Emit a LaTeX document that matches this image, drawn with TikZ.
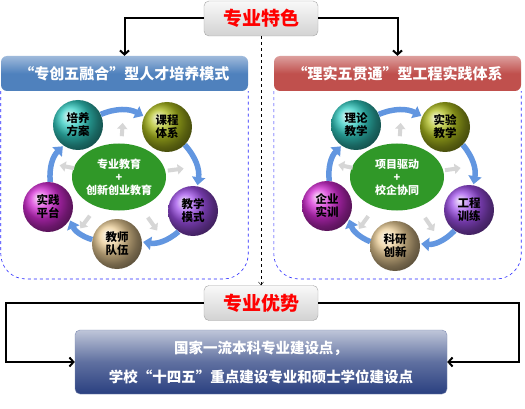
\documentclass[tikz,border=0pt]{standalone}
\usepackage{fontspec}
\setmainfont{Noto Sans CJK SC}
\usepackage{tikz}
\usetikzlibrary{shapes.geometric,arrows.meta,calc}

\definecolor{hdblue}{RGB}{79,129,189}
\definecolor{hdred}{RGB}{192,80,77}
\definecolor{arcblue}{RGB}{98,150,224}
\definecolor{ghost}{RGB}{214,214,214}
\definecolor{hub}{RGB}{48,152,40}
\definecolor{sTeal}{RGB}{50,205,195}
\definecolor{sOlive}{RGB}{175,190,30}
\definecolor{sPurple}{RGB}{160,80,235}
\definecolor{sTan}{RGB}{235,205,150}
\definecolor{sMagenta}{RGB}{215,45,215}
\definecolor{navy}{RGB}{42,64,128}

\begin{document}
\begin{tikzpicture}[x=1pt,y=1pt,
  tag/.style={rounded corners=5,draw=gray!70,top color=gray!5,bottom color=gray!35,
    minimum width=114,minimum height=35,text=red,font=\bfseries\fontsize{19}{22}\selectfont},
  header/.style={rounded corners=6,minimum width=247,minimum height=35,text=white,
    font=\bfseries\fontsize{15}{18}\selectfont},
  panel/.style={draw=blue!85,dashed,semithick,rounded corners=25},
  sphere/.style={circle,minimum size=50,inner sep=0,align=center,
    font=\bfseries\fontsize{11.5}{13}\selectfont},
  hubnode/.style={ellipse,fill=hub,minimum width=94,minimum height=67,inner sep=0,
    align=center,text=white,font=\bfseries\fontsize{11}{13}\selectfont},
  cyc/.style={draw=arcblue,line width=5.5,-{Triangle[length=8pt,width=13pt]},shorten >=1},
  outarrow/.style={draw=ghost,line width=4,-{Triangle[length=6pt,width=10pt]}},
  link/.style={draw=black,line width=2,-{Straight Barb[length=4pt,width=9pt]}},
  dashlink/.style={draw=black,thin,dashed,-{Straight Barb[length=3pt,width=5pt]}}]

\useasboundingbox[fill=white] (0,0) rectangle (525,-409);

\node [tag] (ts) at (261,-18.5) {专业特色};
\node [header,top color=hdblue!55!white,bottom color=hdblue,middle color=hdblue] (lh) at (124.5,-73.5) {“专创五融合”型人才培养模式};
\node [header,top color=hdred!55!white,bottom color=hdred,middle color=hdred] (rh) at (397.5,-73.5) {“理实五贯通”型工程实践体系};

\draw [link] (ts.west) -| (lh.north);
\draw [link] (ts.east) -| (rh.north);

\draw [panel] (lh.south west) |- (lh.south east |- 0,-279) -- (lh.south east);
\draw [panel] (rh.south west) |- (rh.south east |- 0,-279) -- (rh.south east);

\node [hubnode] (lc) at (119,-177) {专业教育\\+\\创新创业教育};
\node [sphere,ball color=sTeal] (pa) at (78,-125) {培养\\方案};
\node [sphere,ball color=sOlive] (kc) at (167,-127) {课程\\体系};
\node [sphere,ball color=sPurple] (jm) at (193,-211) {教学\\模式};
\node [sphere,ball color=sTan] (jd) at (117,-244) {教师\\队伍};
\node [sphere,ball color=sMagenta] (sp) at (48,-207) {实践\\平台};

\draw [cyc] (pa.25) to[bend left=25] (kc.155);
\draw [cyc] (kc.-45) to[bend left=25] (jm.80);
\draw [cyc] (jm.-125) to[bend left=25] (jd.5);
\draw [cyc] (jd.170) to[bend left=25] (sp.-30);
\draw [cyc] (sp.85) to[bend left=25] (pa.-125);

\node [hubnode] (rc) at (397,-177) {项目驱动\\+\\校企协同};
\node [sphere,ball color=sTeal] (ll) at (356,-125) {理论\\教学};
\node [sphere,ball color=sOlive] (sy) at (445,-127) {实验\\教学};
\node [sphere,ball color=sPurple] (gx) at (469,-210) {工程\\训练};
\node [sphere,ball color=sTan] (ky) at (395,-246) {科研\\创新};
\node [sphere,ball color=sMagenta] (qs) at (327,-206) {企业\\实训};

\draw [cyc] (ll.25) to[bend left=25] (sy.155);
\draw [cyc] (sy.-45) to[bend left=25] (gx.80);
\draw [cyc] (gx.-125) to[bend left=25] (ky.5);
\draw [cyc] (ky.170) to[bend left=25] (qs.-30);
\draw [cyc] (qs.85) to[bend left=25] (ll.-125);

\foreach \c/\a/\b in {lc/pa/kc,lc/kc/jm,lc/jm/jd,lc/jd/sp,lc/sp/pa,
                      rc/ll/sy,rc/sy/gx,rc/gx/ky,rc/ky/qs,rc/qs/ll}
  \draw [outarrow] ($(\c)!0.8!($(\a)!0.5!(\b)$)$) -- ($(\c)!1.06!($(\a)!0.5!(\b)$)$);

\node [tag] (ys) at (261,-303) {专业优势};
\draw [dashlink] (ts.south) -- (ys.north);

\node [rounded corners=5,draw=navy!60,top color=navy!30!white,bottom color=navy,middle color=navy!75!white,
  minimum width=372,minimum height=64,text=white,align=center,
  font=\bfseries\fontsize{14.5}{29}\selectfont] (bb) at (261,-362)
  {国家一流本科专业建设点，\\学校“十四五”重点建设专业和硕士学位建设点};

\coordinate (lturn) at (6,-303);
\coordinate (rturn) at (519,-303);
\draw [link] (ys.west) -- (lturn) |- (bb.west);
\draw [link] (ys.east) -- (rturn) |- (bb.east);
\end{tikzpicture}
\end{document}
